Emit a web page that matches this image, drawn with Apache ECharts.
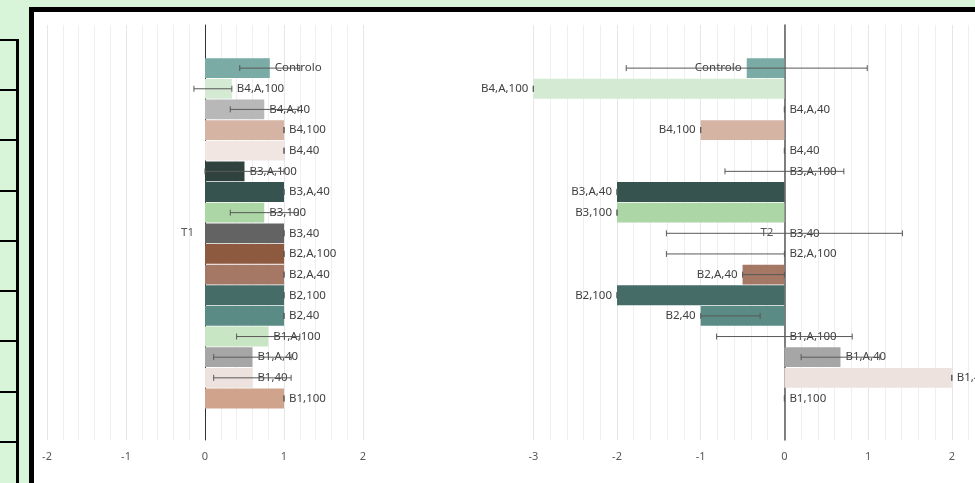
<!DOCTYPE html>
<html>
<head>
<meta charset="utf-8">
<script src="https://cdn.jsdelivr.net/npm/echarts@6/dist/echarts.min.js"></script>
<style>
  html, body { margin: 0; padding: 0; width: 975px; height: 483px; overflow: hidden; background: #d9f5d9; position: relative; }
  #frame { position: absolute; left: 29px; top: 7px; width: 1000px; height: 1000px; border: 5px solid #000; background: #fff; }
  .hl { position: absolute; left: 0; width: 19px; height: 2px; background: #000; }
  #vl { position: absolute; left: 16px; top: 39px; width: 3px; height: 460px; background: #000; }
  #chart { position: absolute; left: 0; top: 0; width: 1100px; height: 483px; }
</style>
</head>
<body>
<div id="frame"></div>
<div id="strip"></div>
<div id="vl"></div>
<div id="chart"></div>
<script>
// ---- data ----
const categories = ['Controlo','B4,A,100','B4,A,40','B4,100','B4,40','B3,A,100','B3,A,40','B3,100','B3,40','B2,A,100','B2,A,40','B2,100','B2,40','B1,A,100','B1,A,40','B1,40','B1,100'];
const colors = ['#7aaba5','#d4ead3','#b8b8b8','#d6b4a4','#f1e6e2','#2f423e','#37534f','#acd6a5','#636363','#8e5a3f','#a57866','#466c68','#5b8b85','#c9e6c4','#a6a6a6','#ede2dd','#d0a38c'];
const panelNames = ['T1','T2'];
const t1Values   = [0.82, 0.34, 0.75, 1, 1, 0.5, 1, 0.75, 1, 1, 1, 1, 1, 0.8, 0.6, 0.6, 1];
const t1ErrMinus = [0.38, 0.48, 0.43, 0, 0, 0.5, 0, 0.43, 0, 0, 0, 0, 0, 0.4, 0.49, 0.49, 0];
const t1ErrPlus  = [0.38, 0,    0.43, 0, 0, 0.5, 0, 0.43, 0, 0, 0, 0, 0, 0.4, 0.49, 0.49, 0];
const t2Values   = [-0.45, -3, 0, -1, 0, 0, -2, -2, 0, 0, -0.5, -2, -1, 0, 0.67, 2, 0];
const t2ErrMinus = [1.44, 0, 0, 0, 0, 0.71, 0, 0, 1.41, 1.41, 0, 0, 0, 0.81, 0.47, 0, 0];
const t2ErrPlus  = [1.44, 0, 0, 0, 0, 0.71, 0, 0, 1.41, 0,    0.5, 0, 0.71, 0.81, 0.47, 0, 0];
const t1Range = [-2, 2];
const t2Range = [-3, 3];

// decorative cell borders at the left edge
const stripY = [39, 89, 139, 190, 240, 290, 340, 391, 441];
const strip = document.getElementById('strip');
stripY.forEach(y => { const d = document.createElement('div'); d.className = 'hl'; d.style.top = y + 'px'; strip.appendChild(d); });

const FONT = 'Noto Sans';
const chart = echarts.init(document.getElementById('chart'), null, { renderer: 'canvas' });

function barData(values) {
  return values.map((v, i) => ({
    value: v,
    itemStyle: { color: colors[i] },
    label: { position: v < 0 ? 'left' : 'right' }
  }));
}
function errData(values, minus, plus) {
  return values.map((v, i) => [v - minus[i], i, v + plus[i]]);
}
function renderErr(params, api) {
  const cat = api.value(1);
  const p1 = api.coord([api.value(0), cat]);
  const p2 = api.coord([api.value(2), cat]);
  const y = p1[1];
  const st = { stroke: '#595959', lineWidth: 1 };
  const h = 3;
  return {
    type: 'group',
    children: [
      { type: 'line', shape: { x1: p1[0], y1: y, x2: p2[0], y2: y }, style: st },
      { type: 'line', shape: { x1: p1[0], y1: y - h, x2: p1[0], y2: y + h }, style: st },
      { type: 'line', shape: { x1: p2[0], y1: y - h, x2: p2[0], y2: y + h }, style: st }
    ]
  };
}

const outerTop = 25, outerH = 415, innerTop = 57.8, innerH = 351;
const p1Left = 47, p1W = 316, p2Left = 533.3, p2W = 502.2;

function outerX(idx, range) {
  return {
    type: 'value', gridIndex: idx, min: range[0], max: range[1], interval: 1,
    axisLine: { show: false }, axisTick: { show: false },
    axisLabel: { color: '#595959', fontSize: 11, fontFamily: FONT, margin: 11 },
    splitLine: { show: true, lineStyle: { color: '#e6e6e6', width: 1 } },
    minorTick: { show: false, splitNumber: 5 },
    minorSplitLine: { show: true, lineStyle: { color: '#efefef', width: 1 } }
  };
}
function innerX(idx, range) {
  return { type: 'value', gridIndex: idx, min: range[0], max: range[1], show: false, splitLine: { show: false } };
}
// category axis drawn at x = 0 (offset from the grid's left edge)
function outerY(idx, name, range, width, lineColor, lineW) {
  const zeroOffset = -(0 - range[0]) / (range[1] - range[0]) * width;
  return {
    type: 'category', gridIndex: idx, data: [name], offset: zeroOffset,
    axisLine: { show: true, onZero: false, lineStyle: { color: lineColor, width: lineW } },
    axisTick: { show: false },
    axisLabel: { color: '#595959', fontSize: 11.5, fontFamily: FONT, margin: 11 }
  };
}
function innerY(idx) {
  return { type: 'category', gridIndex: idx, data: categories, inverse: true, show: false };
}
const labelBase = { show: true, formatter: '{b}', color: '#404040', fontSize: 11.5, fontFamily: FONT, distance: 5 };

chart.setOption({
  animation: false,
  backgroundColor: 'transparent',
  grid: [
    { left: p1Left, top: outerTop, width: p1W, height: outerH },
    { left: p1Left, top: innerTop, width: p1W, height: innerH },
    { left: p2Left, top: outerTop, width: p2W, height: outerH },
    { left: p2Left, top: innerTop, width: p2W, height: innerH }
  ],
  xAxis: [outerX(0, t1Range), innerX(1, t1Range), outerX(2, t2Range), innerX(3, t2Range)],
  yAxis: [outerY(0, panelNames[0], t1Range, p1W, '#333333', 1), innerY(1), outerY(2, panelNames[1], t2Range, p2W, '#595959', 1.5), innerY(3)],
  series: [
    { type: 'bar', xAxisIndex: 1, yAxisIndex: 1, data: barData(t1Values), barCategoryGap: '4%', label: labelBase, z: 2 },
    { type: 'custom', xAxisIndex: 1, yAxisIndex: 1, data: errData(t1Values, t1ErrMinus, t1ErrPlus), renderItem: renderErr, encode: { x: [0, 2], y: 1 }, z: 3 },
    { type: 'bar', xAxisIndex: 3, yAxisIndex: 3, data: barData(t2Values), barCategoryGap: '4%', label: labelBase, z: 2 },
    { type: 'custom', xAxisIndex: 3, yAxisIndex: 3, data: errData(t2Values, t2ErrMinus, t2ErrPlus), renderItem: renderErr, encode: { x: [0, 2], y: 1 }, z: 3 }
  ]
});
</script>
</body>
</html>
